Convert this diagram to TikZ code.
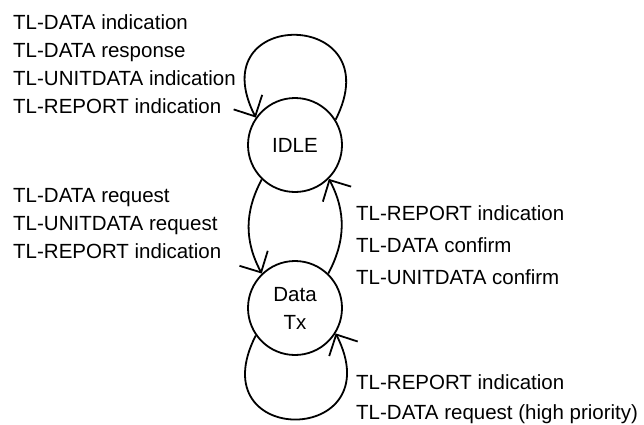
\documentclass[tikz,border=0pt]{standalone}
\usepackage{fontspec}
\setmainfont{Liberation Sans}
\usepackage{tikz}
\usetikzlibrary{arrows.meta,positioning}

\begin{document}
\begin{tikzpicture}[x=1pt, y=1pt,
  circ/.style={draw, circle, line width=1.8pt, minimum size=94pt, inner sep=0pt, align=center, font=\fontsize{20.5}{28}\selectfont},
  arr/.style={-{Straight Barb[length=16pt, width=32pt]}, line width=1.8pt},
  lbl/.style={align=left, inner sep=0pt, anchor=north west, font=\fontsize{20.5}{28}\selectfont}]

\useasboundingbox (0,0) rectangle (644,-424);

\node[circ] (idle) at (295,-145) {IDLE};
\node[circ] (datatx) at (295,-308) {Data\\Tx};

\draw[arr] (idle.32) .. controls +(63:125) and +(117:125) .. (idle.145);
\draw[arr] (idle.226) .. controls +(242:37) and +(118:37) .. (datatx.134);
\draw[arr] (datatx.46) .. controls +(62:37) and +(298:37) .. (idle.315);
\draw[arr] (datatx.215) .. controls +(243:127) and +(297:127) .. (datatx.328);

\node[lbl] (inidle) at (13,-14.5) {TL-DATA indication\\TL-DATA response\\TL-UNITDATA indication\\TL-REPORT indication};
\node[lbl] (totx) at (13,-188.5) {TL-DATA request\\TL-UNITDATA request\\TL-REPORT indication};
\node[lbl] (toidle) at (356,-205.5) {TL-REPORT indication\\[4pt]TL-DATA confirm\\[4pt]TL-UNITDATA confirm};
\node[lbl] (intx) at (356,-374.5) {TL-REPORT indication\\[2pt]TL-DATA request (high priority)};
\end{tikzpicture}
\end{document}
